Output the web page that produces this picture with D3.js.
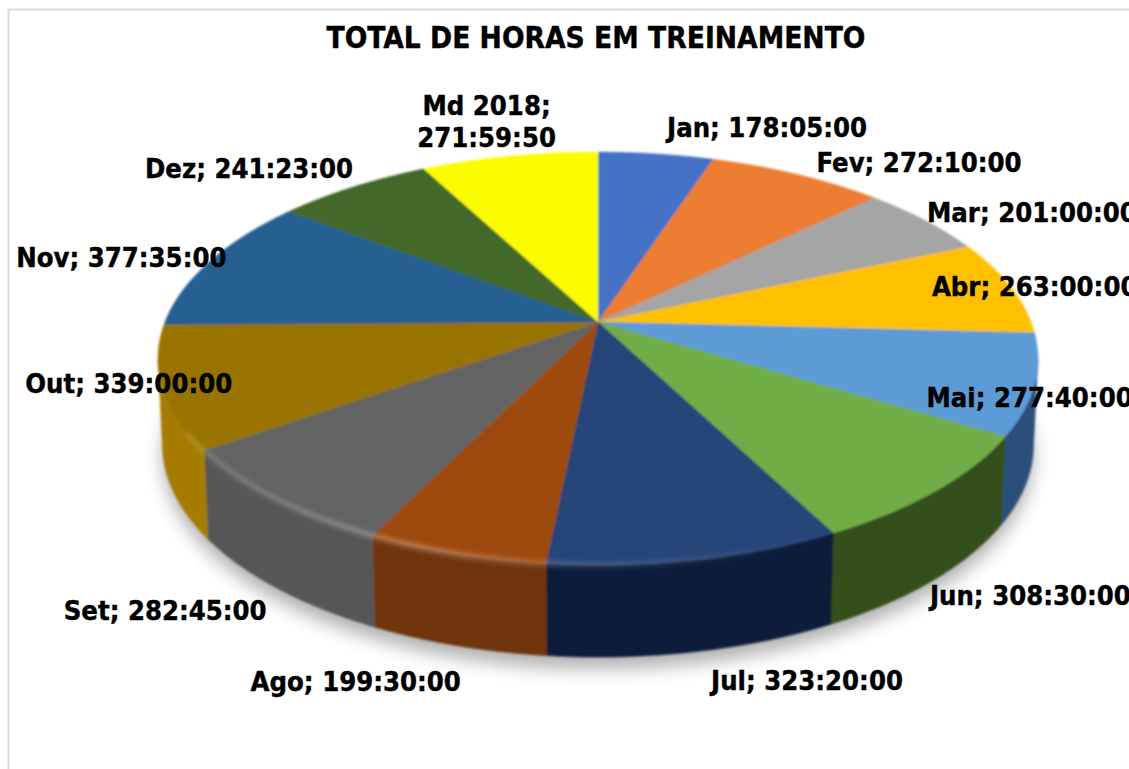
<!DOCTYPE html>
<html>
<head>
<meta charset="utf-8">
<script src="https://cdnjs.cloudflare.com/ajax/libs/d3/7.8.5/d3.min.js"></script>
<style>
html,body{margin:0;padding:0;background:#fff;overflow:hidden}
svg{display:block}
text{font-family:"DejaVu Sans Condensed","DejaVu Sans",sans-serif;font-stretch:condensed;font-weight:700;fill:#000;stroke:#000;stroke-width:0.4px}
</style>
</head>
<body>
<svg id="chart" width="1129" height="769"></svg>
<script>
const titleText = "TOTAL DE HORAS EM TREINAMENTO";
const categories = ["Jan","Fev","Mar","Abr","Mai","Jun","Jul","Ago","Set","Out","Nov","Dez","Md 2018"];
const durations = ["178:05:00","272:10:00","201:00:00","263:00:00","277:40:00","308:30:00","323:20:00","199:30:00","282:45:00","339:00:00","377:35:00","241:23:00","271:59:50"];
const topColors = ["#4472c4","#ed7d31","#a5a5a5","#ffc000","#5b9bd5","#70ad47","#264478","#9e480e","#636363","#997300","#255e91","#43682b","#fcfc00"];
const wallColors = ["#2a4474","#8e4b1d","#636363","#997300","#2a4f7a","#344f1c","#0f1e3b","#70340a","#575757","#a67c00","#16385a","#28401a","#999900"];
const labelOffsets = [[11,-17],[19,-3],[2,2],[-79,9],[-108,23],[-7,115],[15,130],[-205,137],[-210,122],[-137,6],[-193,5],[-208,-9],[-91,-41]];

const toHours = s => { const [h,m,t] = s.split(":").map(Number); return h + m/60 + t/3600; };
const values = durations.map(toHours);

const svg = d3.select("#chart");
const defs = svg.append("defs");
defs.append("filter").attr("id","soft").attr("x","-5%").attr("y","-5%").attr("width","110%").attr("height","110%")
  .append("feGaussianBlur").attr("stdDeviation",0.9);
defs.append("filter").attr("id","shadowBlur").attr("x","-10%").attr("y","-10%").attr("width","120%").attr("height","125%")
  .append("feGaussianBlur").attr("stdDeviation",9);
defs.append("filter").attr("id","rimBlur").attr("x","-5%").attr("y","-20%").attr("width","110%").attr("height","140%")
  .append("feGaussianBlur").attr("stdDeviation",2.4);
const grad = defs.append("linearGradient").attr("id","rimGrad").attr("gradientUnits","userSpaceOnUse")
  .attr("x1",200).attr("x2",830).attr("y1",0).attr("y2",0);
grad.append("stop").attr("offset",0).attr("stop-color","#fff").attr("stop-opacity",0.16);
grad.append("stop").attr("offset",0.35).attr("stop-color","#fff").attr("stop-opacity",0.34);
grad.append("stop").attr("offset",0.55).attr("stop-color","#fff").attr("stop-opacity",0.2);
grad.append("stop").attr("offset",1).attr("stop-color","#fff").attr("stop-opacity",0);

// Chart-area frame, running off the right and bottom of the picture
svg.append("rect").attr("x",8.5).attr("y",9.5).attr("width",1400).attr("height",1000)
  .attr("fill","#fff").attr("stroke","#d9d9d9").attr("stroke-width",2);

// Perspective projection of the pie disc
const tilt = 0.177;
const xScale = d3.scaleLinear().domain([-1,1]).range([598-433,598+433]);
const yScale = d3.scaleLinear().domain([-1,1]).range([322+200,322-200]);
const factor = a => 1/(1+tilt*Math.cos(a));
const rimPoint = a => [xScale(Math.sin(a)*factor(a)), yScale(Math.cos(a)*factor(a))];
const basePoint = a => {
  const [x,y] = rimPoint(a);
  return [xScale(0)+(x-xScale(0))*0.99, y+84-8*Math.cos(a)];
};
const sample = (a0,a1) => {
  const n = Math.max(2, Math.ceil(Math.abs(a1-a0)/0.01));
  return d3.range(n+1).map(i => a0+(a1-a0)*i/n);
};
const line = d3.line();

const arcs = d3.pie().sort(null).value(d=>d).startAngle(0).endAngle(2*Math.PI)(values);
const visA = Math.acos(-tilt), visB = 2*Math.PI-visA;

// Soft shadow under the disc
svg.append("path")
  .attr("d", line(sample(0,2*Math.PI).map(basePoint))+"Z")
  .attr("transform","translate(0,12)")
  .attr("fill","#000").attr("opacity",0.3).attr("filter","url(#shadowBlur)");

const pie = svg.append("g").attr("filter","url(#soft)");

// Side walls
arcs.forEach((d,i) => {
  const a0 = Math.max(d.startAngle,visA), a1 = Math.min(d.endAngle,visB);
  if (a1 <= a0) return;
  const s = sample(a0,a1);
  pie.append("path")
    .attr("d", line(s.map(rimPoint).concat(s.slice().reverse().map(basePoint)))+"Z")
    .attr("fill",wallColors[i]).attr("stroke",wallColors[i]).attr("stroke-width",0.6);
});

// Top face
arcs.forEach((d,i) => {
  pie.append("path")
    .attr("d", line([[xScale(0),yScale(0)]].concat(sample(d.startAngle,d.endAngle).map(rimPoint)))+"Z")
    .attr("fill",topColors[i]).attr("stroke",topColors[i]).attr("stroke-width",0.5);
});

// Bevel highlight along the front rim
svg.append("path")
  .attr("d", line(sample(Math.PI*0.85,visB-0.35).map(rimPoint)))
  .attr("fill","none").attr("stroke","url(#rimGrad)").attr("stroke-width",5).attr("filter","url(#rimBlur)");

// Title
svg.append("text").attr("x",596).attr("y",48).attr("text-anchor","middle")
  .attr("font-size",29.6).text(titleText);

// Data labels, placed relative to each slice's mid-angle on the rim
arcs.forEach((d,i) => {
  const [x,y] = rimPoint((d.startAngle+d.endAngle)/2);
  const [dx,dy] = labelOffsets[i];
  const t = svg.append("text").attr("font-size",27.2);
  if (categories[i].includes(" ")) {
    t.attr("text-anchor","middle");
    t.append("tspan").attr("x",x+dx+68).attr("y",y+dy).text(categories[i]+";");
    t.append("tspan").attr("x",x+dx+68).attr("y",y+dy+32).text(durations[i]);
  } else {
    t.attr("x",x+dx).attr("y",y+dy).text(categories[i]+"; "+durations[i]);
  }
});
</script>
</body>
</html>
